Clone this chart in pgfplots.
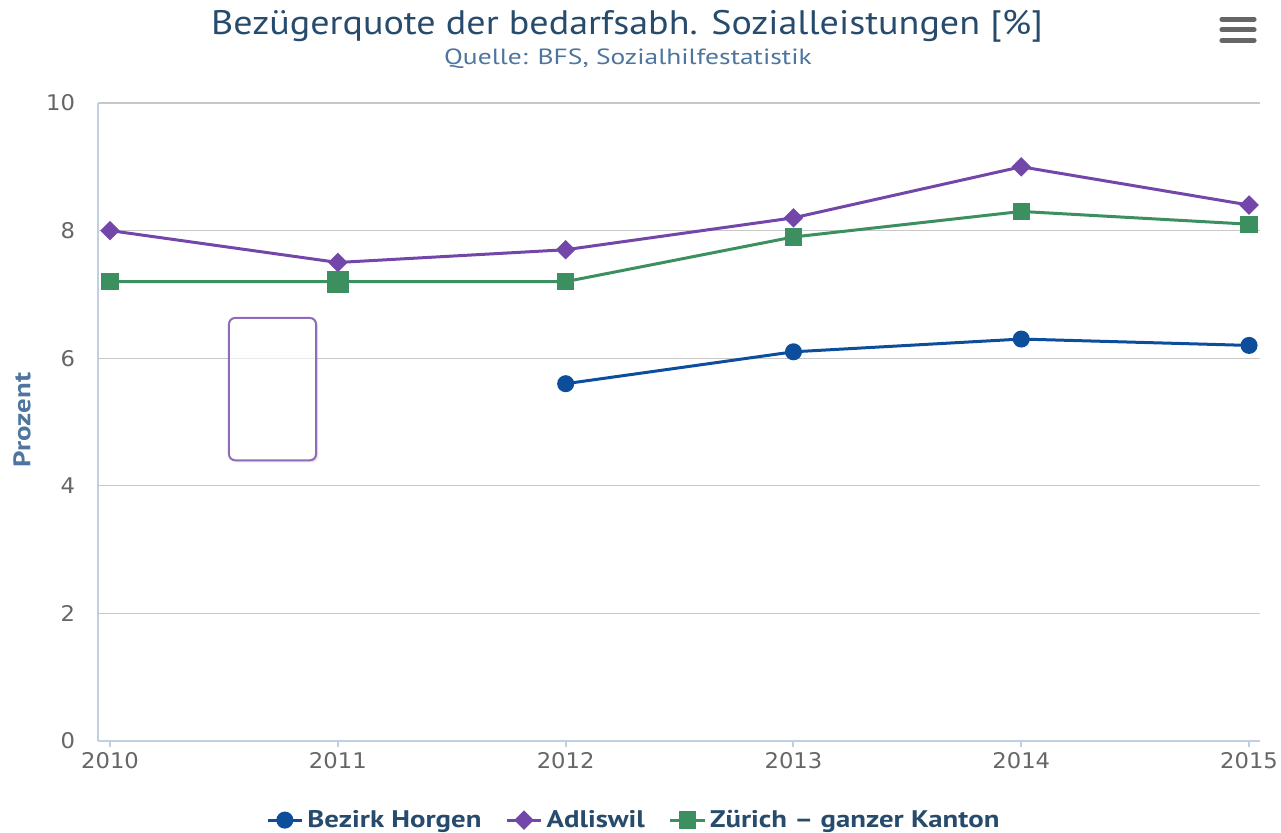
\documentclass[border=0pt]{standalone}
\usepackage{fontspec}
\setmainfont{PT Sans}
\newfontfamily\titlefont[FakeStretch=1.12]{PT Sans}
\newfontfamily\subfont[FakeStretch=1.25]{PT Sans}
\newfontfamily\legfont[FakeStretch=1.2]{PT Sans}
\newfontfamily\tickfont[FakeStretch=1.05]{DejaVu Sans}
\usepackage{pgfplots}
\pgfplotsset{compat=1.18}
\usetikzlibrary{shadows}

\definecolor{horgen}{HTML}{0D4E9C}
\definecolor{adliswil}{HTML}{7347AA}
\definecolor{zuerich}{HTML}{3C9060}
\definecolor{titleblue}{HTML}{274B6D}
\definecolor{subblue}{HTML}{4D759E}
\definecolor{axisblue}{HTML}{C0D0E0}
\definecolor{gridgrey}{HTML}{C8C8C8}
\definecolor{ticktext}{HTML}{666666}

\begin{document}
\begin{tikzpicture}
\begin{axis}[
    at={(0,0)}, anchor=south west,
    scale only axis,
    width=581pt, height=319pt,
    xmin=2009.947, xmax=2015.048,
    ymin=0, ymax=10,
    axis x line*=bottom, axis y line*=left,
    axis line style={-, draw=axisblue, line width=1pt},
    xtick={2010,2011,...,2015},
    ytick={0,2,...,10},
    xtick pos=bottom, ytick pos=left,
    tick align=outside,
    major tick length=3pt,
    xtick style={draw=axisblue, line width=1pt},
    ytick style={draw=none},
    ymajorgrids,
    grid style={gridgrey, line width=0.6pt},
    /pgf/number format/assume math mode=true,
    /pgf/number format/1000 sep={},
    ticklabel style={font=\tickfont\fontsize{10.8}{12}\selectfont, color=ticktext},
    yticklabel style={xshift=-5pt},
    xticklabel style={yshift=1pt},
    legend columns=-1,
    legend style={at={(axis description cs:0.462,-0.124)}, anchor=center, draw=none,
        font=\legfont\bfseries\fontsize{12}{14}\selectfont, text=titleblue,
        /tikz/every even column/.append style={column sep=10pt}},
    legend cell align=left,
    every axis plot/.append style={line width=1.5pt},
    clip=false,
]
\addplot[color=horgen, mark=*, mark size=3.5pt] coordinates {
    (2012,5.6) (2013,6.1) (2014,6.3) (2015,6.2)
};
\addlegendentry{Bezirk Horgen}
\addplot[color=adliswil, mark=square*, mark size=2.7pt, mark options={rotate=45}] coordinates {
    (2010,8.0) (2011,7.5) (2012,7.7) (2013,8.2) (2014,9.0) (2015,8.4)
};
\addlegendentry{Adliswil}
\addplot[color=zuerich, mark=square*, mark size=3.6pt] coordinates {
    (2010,7.2) (2011,7.2) (2012,7.2) (2013,7.9) (2014,8.3) (2015,8.1)
};
\addlegendentry{Zürich – ganzer Kanton}
% hovered point
\addplot[color=zuerich, only marks, mark=square*, mark size=4.8pt, forget plot] coordinates {
    (2011,7.2)
};
% empty tooltip box
\draw[draw=adliswil!80, line width=1pt, fill=white, rounded corners=3pt,
      drop shadow={opacity=0.2, shadow xshift=1pt, shadow yshift=-1pt}]
    (axis cs:2010.522,6.63) rectangle (axis cs:2010.904,4.40);
\draw[gridgrey!40, line width=0.6pt] (axis cs:2010.525,6) -- (axis cs:2010.901,6);
\end{axis}
\node[rotate=90, font=\legfont\bfseries\fontsize{12}{14}\selectfont, color=subblue] at (-38pt,160.5pt) {Prozent};
\node[font=\titlefont\fontsize{17}{20}\selectfont, color=titleblue] at (264.5pt,357.5pt)
    {Bezügerquote der bedarfsabh. Sozialleistungen [\%]};
\node[font=\subfont\fontsize{11}{13}\selectfont, color=subblue] at (265pt,341pt)
    {Quelle: BFS, Sozialhilfestatistik};
% menu icon
\foreach \y in {360.9,355.6,350.3}
    \draw[ticktext, line width=2.6pt, line cap=round] (562pt,\y pt) -- (578pt,\y pt);
\pgfresetboundingbox
\useasboundingbox (-49pt,-46pt) rectangle (591.5pt,370.5pt);
\end{tikzpicture}
\end{document}
